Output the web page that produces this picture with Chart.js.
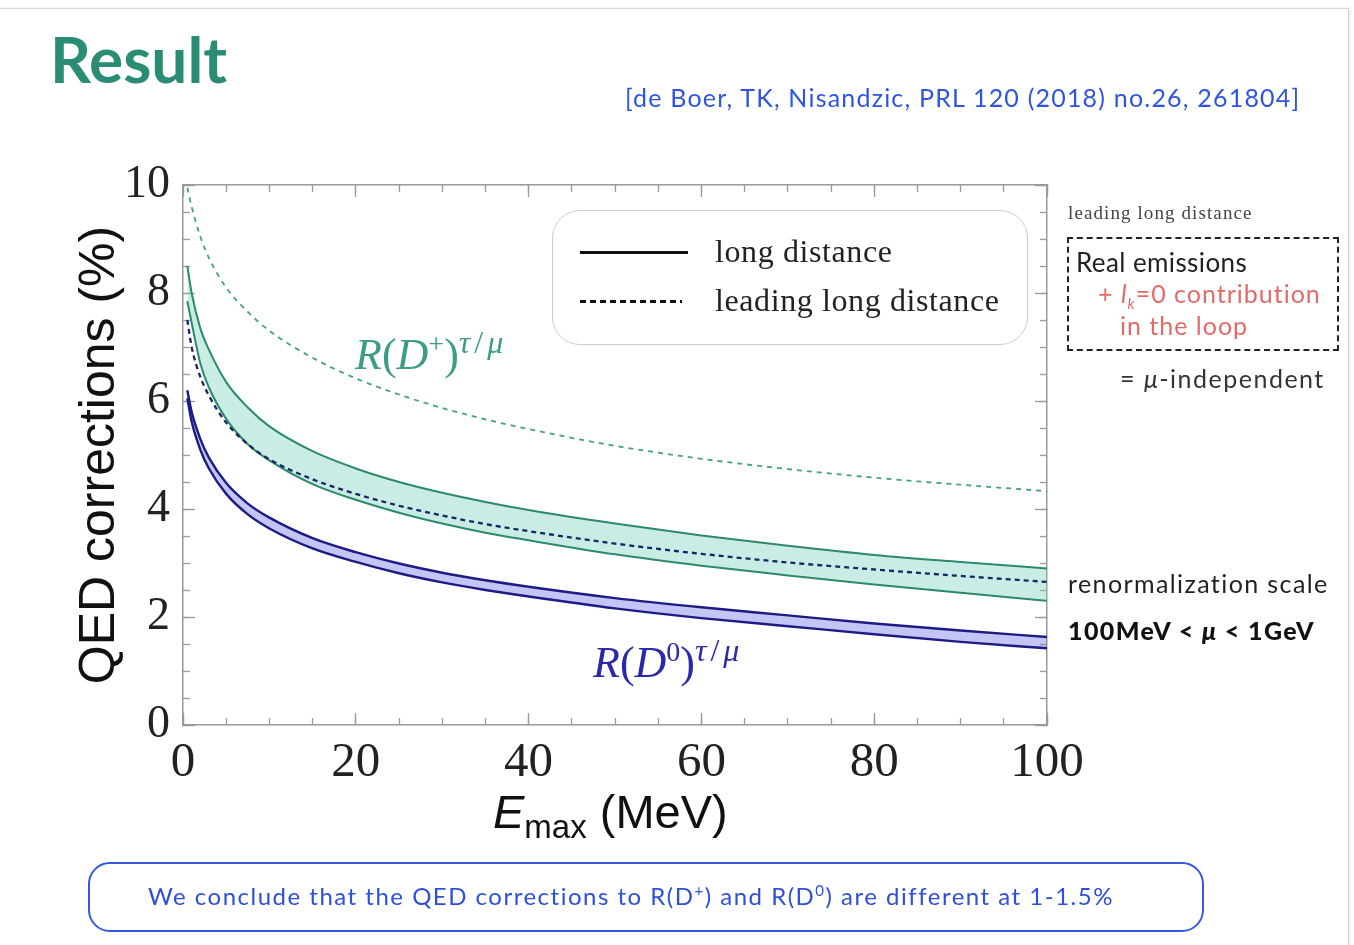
<!DOCTYPE html>
<html>
<head>
<meta charset="utf-8">
<script src="https://cdn.jsdelivr.net/npm/chart.js@4"></script>
<style>
  body { margin: 0; background: #fff; }
  #page { position: relative; width: 1354px; height: 945px; overflow: hidden; background: #fff; }
  #frame { position: absolute; left: -2px; top: 8px; width: 1349px; height: 950px; border: 1px solid #d6d6d6; box-shadow: 1px 0 3px #e4e4e4; }
  canvas { position: absolute; left: 0; top: 0; }
  .t { position: absolute; white-space: nowrap; line-height: 1; }
  .lato { font-family: Lato, "Open Sans", sans-serif; }
  .serif { font-family: "Liberation Serif", "DejaVu Serif", serif; }
  .sans { font-family: "Liberation Sans", Arial, sans-serif; }
  sup, sub { line-height: 0; }
</style>
</head>
<body>
<div id="page">
  <div id="frame"></div>
  <canvas id="chart" width="1354" height="945"></canvas>

  <div class="t lato" style="left:50px;top:27px;font-size:64px;font-weight:700;color:#2b8c76;">Result</div>
  <div class="t lato" style="left:625px;top:85px;font-size:25px;letter-spacing:1.2px;color:#2f55e0;">[de Boer, TK, Nisandzic, PRL 120 (2018) no.26, 261804]</div>

  <!-- legend -->
  <div style="position:absolute;left:552px;top:210px;width:474px;height:133px;border:1.5px solid #cccccc;border-radius:28px;"></div>
  <div style="position:absolute;left:580px;top:251px;width:108px;height:3px;background:#111;"></div>
  <div style="position:absolute;left:580px;top:300px;width:102px;height:3px;background:repeating-linear-gradient(to right,#111 0 6px,transparent 6px 10px);"></div>
  <div class="t serif" style="left:715px;top:235px;font-size:32px;letter-spacing:0.6px;color:#222;">long distance</div>
  <div class="t serif" style="left:715px;top:284px;font-size:32px;letter-spacing:0.6px;color:#222;">leading long distance</div>

  <!-- curve labels -->
  <div class="t serif" style="left:355px;top:333px;font-size:44px;color:#3d9c86;"><i>R</i>(<i>D</i><sup style="font-size:28px">+</sup>)<sup style="font-size:32px;letter-spacing:4px;"><i>τ</i>/<i>μ</i></sup></div>
  <div class="t serif" style="left:593px;top:641px;font-size:44px;color:#2a2aa8;"><i>R</i>(<i>D</i><sup style="font-size:28px">0</sup>)<sup style="font-size:32px;letter-spacing:4px;"><i>τ</i>/<i>μ</i></sup></div>

  <!-- x axis title -->
  <div class="t sans" style="left:493px;top:788px;font-size:47px;color:#111;"><i>E</i><sub style="font-size:33px;">max</sub> (MeV)</div>

  <!-- right notes -->
  <div class="t serif" style="left:1068px;top:203px;font-size:19px;letter-spacing:1.1px;color:#444;">leading long distance</div>
  <div style="position:absolute;left:1067px;top:237px;width:268px;height:110px;border:2px dashed #222;"></div>
  <div class="t lato" style="left:1076px;top:249px;font-size:26px;letter-spacing:0.4px;color:#222;">Real emissions</div>
  <div class="t lato" style="left:1098px;top:281px;font-size:25px;letter-spacing:1px;color:#e46a6a;">+ <i>l<sub style="font-size:15px">k</sub></i>=0 contribution</div>
  <div class="t lato" style="left:1120px;top:313px;font-size:25px;letter-spacing:1px;color:#e46a6a;">in the loop</div>
  <div class="t lato" style="left:1120px;top:366px;font-size:25px;letter-spacing:1.5px;color:#333;">= <i>μ</i>-independent</div>
  <div class="t lato" style="left:1068px;top:571px;font-size:25px;letter-spacing:1.4px;color:#222;">renormalization scale</div>
  <div class="t lato" style="left:1068px;top:618px;font-size:25px;letter-spacing:1.4px;font-weight:900;color:#111;">100MeV &lt; <i>μ</i> &lt; 1GeV</div>

  <!-- conclusion box -->
  <div style="position:absolute;left:88px;top:862px;width:1112px;height:66px;border:2.5px solid #3558e0;border-radius:22px;"></div>
  <div class="t lato" style="left:148px;top:884px;font-size:24px;letter-spacing:1.5px;color:#2f4fd8;">We conclude that the QED corrections to R(D<sup style="font-size:15px">+</sup>) and R(D<sup style="font-size:15px">0</sup>) are different at 1-1.5%</div>
</div>

<script>
// E_max grid (MeV)
const eMax = [0.5, 1, 2, 3, 5, 7.5, 10, 15, 20, 25, 30, 35, 40, 50, 60, 70, 80, 90, 100];

// R(D+) : long distance band (mu range) and leading long distance
const dPlusUpper = [8.5, 8.0, 7.35, 6.95, 6.35, 5.88, 5.53, 5.07, 4.75, 4.5, 4.3, 4.13, 3.98, 3.73, 3.51, 3.32, 3.15, 3.02, 2.9];
const dPlusLower = [7.85, 7.45, 6.7, 6.25, 5.67, 5.2, 4.9, 4.46, 4.17, 3.93, 3.73, 3.56, 3.42, 3.16, 2.95, 2.77, 2.6, 2.45, 2.3];
const dPlusLeading = [9.95, 9.6, 9.05, 8.65, 8.1, 7.65, 7.3, 6.8, 6.42, 6.12, 5.87, 5.66, 5.48, 5.17, 4.93, 4.74, 4.58, 4.45, 4.33];

// leading long distance (navy dashed, runs through the R(D+) band)
const leadingNavy = [7.5, 7.0, 6.45, 6.1, 5.6, 5.2, 4.92, 4.55, 4.28, 4.06, 3.88, 3.72, 3.59, 3.36, 3.17, 3.01, 2.88, 2.76, 2.65];

// R(D0) band
const dZeroUpper = [6.2, 5.8, 5.3, 4.95, 4.48, 4.1, 3.84, 3.46, 3.2, 2.99, 2.82, 2.68, 2.56, 2.35, 2.18, 2.03, 1.88, 1.75, 1.63];
const dZeroLower = [6.05, 5.62, 5.1, 4.75, 4.28, 3.9, 3.64, 3.27, 3.02, 2.81, 2.64, 2.5, 2.38, 2.16, 1.98, 1.83, 1.68, 1.54, 1.42];

const xMajorStep = 20;
const xMinorStep = 5;
const yMajorStep = 2;
const yMinorStep = 0.5;

function points(values) {
  return eMax.map((x, i) => ({ x: x, y: values[i] }));
}

function fixSize(size) {
  return (axis) => {
    if (axis.isHorizontal()) axis.height = size;
    else axis.width = size;
  };
}

const axisColor = "#9a9a9a";

function tickAxis(position, weight, min, max, step, len, size, withBorder) {
  return {
    type: "linear",
    position: position,
    weight: weight,
    min: min,
    max: max,
    ticks: { display: false, stepSize: step, autoSkip: false },
    grid: { drawOnChartArea: false, tickLength: len, color: axisColor, tickWidth: 1.3 },
    border: { display: withBorder, color: axisColor, width: 1.5 },
    afterFit: fixSize(size),
  };
}

const lineBase = {
  pointRadius: 0,
  pointHoverRadius: 0,
  cubicInterpolationMode: "monotone",
};

new Chart(document.getElementById("chart"), {
  type: "line",
  data: {
    datasets: [
      {
        ...lineBase,
        label: "leading long distance",
        data: points(leadingNavy),
        borderColor: "#1b2466",
        borderWidth: 2.3,
        borderDash: [5, 4],
        fill: false,
      },
      {
        ...lineBase,
        label: "R(D+) leading long distance",
        data: points(dPlusLeading),
        borderColor: "#45a088",
        borderWidth: 1.8,
        borderDash: [5, 5],
        fill: false,
      },
      {
        ...lineBase,
        label: "R(D+) upper",
        data: points(dPlusUpper),
        borderColor: "#2c8a6c",
        borderWidth: 2,
        fill: false,
      },
      {
        ...lineBase,
        label: "R(D+) lower",
        data: points(dPlusLower),
        borderColor: "#2c8a6c",
        borderWidth: 2,
        backgroundColor: "rgba(120, 210, 190, 0.4)",
        fill: "-1",
      },
      {
        ...lineBase,
        label: "R(D0) upper",
        data: points(dZeroUpper),
        borderColor: "#1c1c86",
        borderWidth: 2.4,
        fill: false,
      },
      {
        ...lineBase,
        label: "R(D0) lower",
        data: points(dZeroLower),
        borderColor: "#1c1c86",
        borderWidth: 2.4,
        backgroundColor: "rgba(110, 110, 230, 0.4)",
        fill: "-1",
      },
    ],
  },
  options: {
    responsive: false,
    animation: false,
    layout: { padding: { left: 0, top: 185, right: 307, bottom: 150 } },
    plugins: { legend: { display: false }, tooltip: { enabled: false } },
    scales: {
      x: {
        type: "linear",
        position: "bottom",
        weight: 1,
        min: 0,
        max: 100,
        ticks: {
          stepSize: xMajorStep,
          autoSkip: false,
          maxRotation: 0,
          padding: 21,
          color: "#222",
          font: { family: "'Liberation Serif', serif", size: 49 },
        },
        grid: { drawOnChartArea: false, tickLength: -12, color: axisColor, tickWidth: 1.3 },
        border: { color: axisColor, width: 1.5 },
        afterFit: fixSize(70),
      },
      xMinor: tickAxis("bottom", 0, 0, 100, xMinorStep, -7, 0, false),
      xTop: tickAxis("top", 1, 0, 100, xMajorStep, -12, 0, true),
      xTopMinor: tickAxis("top", 0, 0, 100, xMinorStep, -7, 0, false),
      y: {
        type: "linear",
        position: "left",
        weight: 1,
        min: 0,
        max: 10,
        ticks: {
          stepSize: yMajorStep,
          autoSkip: false,
          padding: 25,
          color: "#222",
          font: { family: "'Liberation Serif', serif", size: 46 },
        },
        grid: { drawOnChartArea: false, tickLength: -12, color: axisColor, tickWidth: 1.3 },
        border: { color: axisColor, width: 1.5 },
        title: {
          display: true,
          text: "QED corrections (%)",
          color: "#111",
          font: { family: "'Liberation Sans', Arial, sans-serif", size: 50 },
          padding: { top: 70, bottom: 0 },
        },
        afterFit: fixSize(183),
      },
      yMinor: tickAxis("left", 0, 0, 10, yMinorStep, -7, 0, false),
      yRight: tickAxis("right", 1, 0, 10, yMajorStep, -12, 0, true),
      yRightMinor: tickAxis("right", 0, 0, 10, yMinorStep, -7, 0, false),
    },
  },
});
</script>
</body>
</html>
